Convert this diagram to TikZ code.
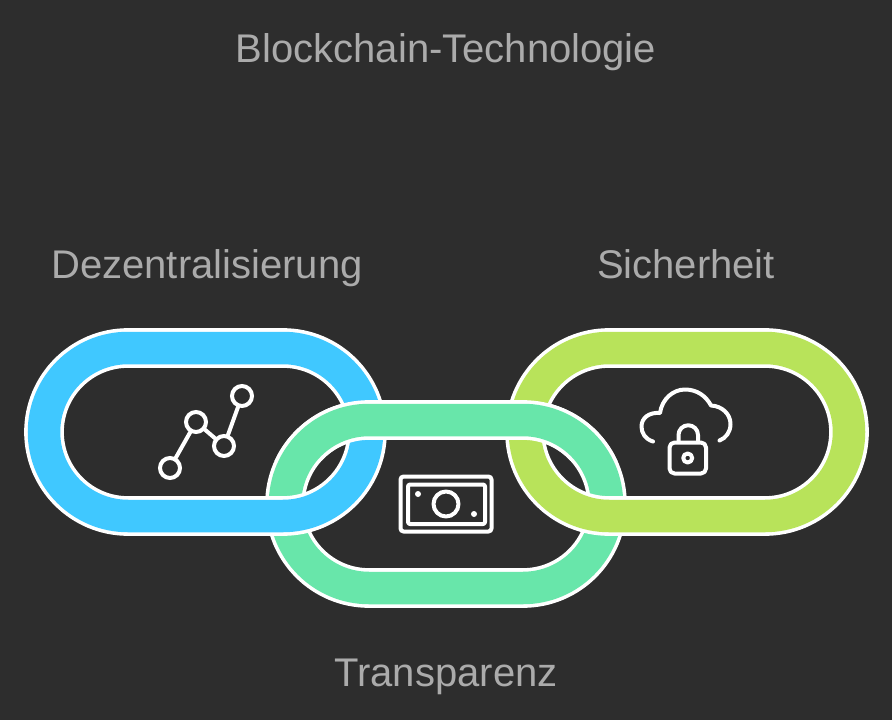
\documentclass[tikz,border=0pt]{standalone}
\usepackage{fontspec}
\setmainfont{Liberation Sans}
\definecolor{bgdark}{HTML}{2D2D2D}
\definecolor{labelgray}{HTML}{ABABAB}
\definecolor{ringblue}{HTML}{40C8FF}
\definecolor{ringmint}{HTML}{68E6AA}
\definecolor{ringlime}{HTML}{B8E35A}
\tikzset{
  ring/.style={draw=white, line width=3.6pt, double=#1, double distance=32.5pt, rounded corners=84pt},
  icon/.style={draw=white, line width=4pt, line cap=round, line join=round},
  dotnode/.style={circle, draw=white, line width=4pt, inner sep=0pt, minimum size=20pt},
  caption/.style={text=labelgray, font=\fontsize{40}{48}\selectfont, inner sep=0pt, anchor=base}
}
\begin{document}
\begin{tikzpicture}[x=1pt,y=-1pt]
  % background
  \fill[bgdark] (0,0) rectangle (892,720);

  % labels
  \node[caption] (title) at (446,62) {Blockchain-Technologie};
  \node[caption] (dezentral) at (207,278) {Dezentralisierung};
  \node[caption] (sicher) at (686,278) {Sicherheit};
  \node[caption] (transparent) at (446,686) {Transparenz};

  % rings
  \draw[ring=ringmint] (285,420) rectangle (607,588);
  \draw[ring=ringblue] (44,348) rectangle (367,516);
  \draw[ring=ringlime] (525,348) rectangle (849,516);
  % upper half of the mint ring lies on top
  \begin{scope}
    \clip (240,380) rectangle (650,460);
    \draw[ring=ringmint] (285,420) rectangle (607,588);
  \end{scope}

  % chart icon
  \node[dotnode] (p1) at (170,468) {};
  \node[dotnode] (p2) at (196,422) {};
  \node[dotnode] (p3) at (224,446) {};
  \node[dotnode] (p4) at (242,396) {};
  \draw[icon] (p1) -- (p2);
  \draw[icon] (p2) -- (p3);
  \draw[icon] (p3) -- (p4);

  % banknote icon
  \draw[icon, rounded corners=3pt] (400.5,476.5) rectangle (491.5,531.5);
  \draw[icon, rounded corners=2pt] (408,484.5) rectangle (485,524);
  \draw[icon] (446,504) circle (12.5);
  \fill[white] (418,494) circle (3);
  \fill[white] (474,514) circle (3);

  % cloud and lock icon
  \draw[icon] (653,441.5) .. controls (645,439) and (641.5,433) .. (641.5,426.5)
    .. controls (641.5,418) and (649,412) .. (660,413)
    .. controls (662,399) and (673,389.5) .. (685,389.5)
    .. controls (697,389.5) and (706,396) .. (711,405.5)
    .. controls (722,406) and (730.5,414) .. (730.5,424)
    .. controls (730.5,432) and (726,438) .. (719.5,440.5);
  \draw[icon, rounded corners=5pt] (669.5,442.5) rectangle (706,473.5);
  \draw[icon] (678.5,441) -- (678.5,435) arc (180:360:9.75) -- (698,441);
  \draw[icon] (687.7,458) circle (4.5);
\end{tikzpicture}
\end{document}
